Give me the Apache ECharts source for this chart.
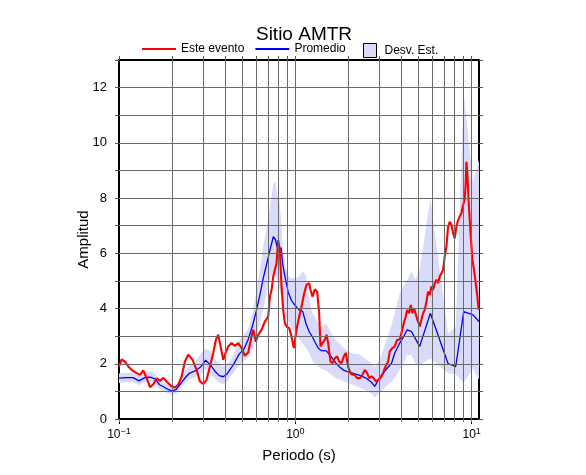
<!DOCTYPE html>
<html><head><meta charset="utf-8">
<script src="https://cdn.jsdelivr.net/npm/echarts@6/dist/echarts.min.js"></script>
<style>html,body{margin:0;padding:0;background:#fff}#c{width:586px;height:475px}</style>
</head><body><div id="c"></div>
<script>
// ---- Data ----
const titleText = 'Sitio AMTR';
const seriesNames = ['Este evento', 'Promedio', 'Desv. Est.'];
const xName = 'Periodo (s)';
const yName = 'Amplitud';

// Este evento (period s, amplitude)
const redT = [0.100,0.1035,0.1082,0.1129,0.1179,0.1259,0.1315,0.1373,0.1435,0.1499,0.1532,0.1565,0.1634,0.1707,0.1783,0.1862,0.1988,0.2077,0.2168,0.2265,0.2365,0.2470,0.2525,0.2615,0.2755,0.2877,0.3005,0.3138,0.3278,0.3423,0.3544,0.3653,0.3767,0.3900,0.3988,0.4163,0.4348,0.4541,0.4744,0.4955,0.5174,0.5404,0.5645,0.5769,0.5973,0.6158,0.6432,0.6719,0.7015,0.7170,0.7328,0.7488,0.7653,0.7819,0.7992,0.8170,0.835,0.853,0.872,0.891,0.923,0.951,0.981,0.9935,1.015,1.051,1.084,1.117,1.157,1.198,1.219,1.251,1.290,1.330,1.365,1.389,1.425,1.469,1.502,1.535,1.582,1.624,1.674,1.726,1.771,1.826,1.883,1.932,1.992,2.054,2.109,2.174,2.240,2.320,2.402,2.476,2.553,2.620,2.702,2.785,2.858,2.946,3.037,3.145,3.214,3.285,3.357,3.431,3.553,3.663,3.776,3.908,3.995,4.119,4.227,4.302,4.415,4.512,4.611,4.713,4.816,4.922,5.074,5.185,5.300,5.416,5.536,5.655,5.781,5.908,6.039,6.171,6.307,6.446,6.587,6.733,6.880,7.031,7.187,7.344,7.506,7.671,7.840,8.012,8.188,8.368,8.551,8.740,8.932,9.128,9.247,9.327,9.450,9.616,9.827,10.09,10.31,10.54,10.77,10.96];
const redA = [1.90,2.16,2.08,1.90,1.78,1.66,1.60,1.76,1.48,1.15,1.13,1.26,1.47,1.38,1.49,1.36,1.18,1.14,1.24,1.54,2.08,2.33,2.39,2.14,1.78,1.36,1.27,1.42,1.90,2.39,2.87,3.05,2.63,2.14,2.33,2.63,2.75,2.65,2.75,2.57,2.29,2.41,2.99,3.23,2.80,3.05,3.23,3.53,3.71,4.43,4.67,5.16,5.40,5.64,6.48,6.10,4.80,3.95,3.47,3.35,3.29,2.99,2.57,2.50,3.23,3.71,4.07,4.49,4.86,4.92,4.67,4.43,4.70,4.61,3.83,2.63,2.75,2.87,3.05,2.75,2.08,2.02,2.20,2.27,2.08,2.02,2.27,2.39,1.90,1.66,1.60,1.60,1.48,1.48,1.60,1.78,1.66,1.48,1.54,1.48,1.36,1.42,1.48,1.66,1.84,1.78,2.08,2.45,2.57,2.63,2.87,2.87,3.11,3.47,3.71,3.95,3.83,4.13,3.83,4.01,4.07,3.59,3.35,3.59,3.83,3.95,4.25,4.61,4.49,4.80,4.67,4.92,5.04,4.92,5.16,5.28,5.40,5.88,6.24,6.96,7.14,7.05,6.72,6.54,6.96,7.20,7.33,7.45,7.75,7.93,8.53,9.31,8.89,7.81,6.84,5.76,5.40,4.92,4.43,3.95];

// Promedio and Desv. Est. band (period s)
const meanT = [0.10,0.11,0.12,0.13,0.14,0.15,0.16,0.17,0.18,0.19,0.20,0.21,0.22,0.23,0.24,0.25,0.27,0.29,0.31,0.33,0.35,0.37,0.39,0.41,0.43,0.45,0.48,0.51,0.54,0.57,0.60,0.63,0.66,0.69,0.72,0.75,0.77,0.79,0.81,0.83,0.85,0.88,0.91,0.95,1.0,1.05,1.1,1.15,1.2,1.25,1.3,1.35,1.4,1.5,1.6,1.7,1.8,1.9,2.0,2.15,2.3,2.5,2.7,2.82,3.0,3.2,3.51,3.66,3.91,4.12,4.3,4.55,4.8,5.07,5.83,7.34,8.12,9.01,10.17,11.0];
const meanA = [1.48,1.50,1.50,1.38,1.50,1.52,1.45,1.24,1.16,1.07,1.01,1.06,1.22,1.38,1.53,1.65,1.74,1.88,2.13,1.96,1.73,1.57,1.53,1.63,1.82,2.02,2.35,2.52,2.88,3.35,3.90,4.50,5.15,5.65,6.15,6.60,6.50,6.22,6.12,6.20,5.55,5.05,4.60,4.30,4.10,3.95,3.90,3.45,3.15,2.97,2.75,2.56,2.48,2.47,2.25,2.02,1.86,1.75,1.71,1.64,1.59,1.49,1.33,1.18,1.48,1.72,2.02,2.39,2.75,2.99,3.23,3.17,2.90,2.63,3.83,2.01,1.90,3.89,3.77,3.53];
const bandHi = [1.65,1.67,1.68,1.56,1.68,1.73,1.66,1.42,1.33,1.23,1.17,1.23,1.40,1.58,1.78,1.92,2.05,2.35,2.55,2.45,2.18,1.98,1.88,1.98,2.15,2.40,2.85,3.05,3.25,3.80,4.60,5.40,6.30,7.00,7.70,8.50,8.60,8.10,8.00,7.20,6.20,5.50,5.20,5.10,5.10,5.15,5.35,5.20,4.30,3.85,3.65,3.47,3.35,3.45,3.10,2.85,2.70,2.55,2.45,2.35,2.35,2.18,2.00,1.88,2.14,2.63,3.40,3.83,4.55,4.85,5.00,5.35,5.04,5.40,8.00,3.10,3.35,11.80,8.60,9.40];
const bandLo = [1.30,1.33,1.33,1.22,1.33,1.35,1.28,1.08,1.00,0.93,0.87,0.91,1.06,1.20,1.33,1.44,1.50,1.60,1.80,1.65,1.45,1.30,1.25,1.35,1.55,1.72,1.93,2.10,2.25,2.50,2.95,3.50,4.05,4.60,5.05,5.35,5.20,5.00,4.75,4.45,4.15,3.75,3.55,3.30,3.10,2.90,2.75,2.55,2.40,2.10,2.00,1.90,1.82,1.75,1.60,1.48,1.42,1.35,1.30,1.22,1.15,1.05,0.92,0.78,0.94,1.12,1.35,1.48,1.78,2.05,2.30,2.33,2.00,1.95,2.20,1.66,1.62,1.30,1.84,1.42];

// Axis ticks
const xMin = 0.1, xMax = 11;
const yMin = 0, yMax = 13, yStep = 1;
const xGridVals = [0.2,0.3,0.4,0.5,0.6,0.7,0.8,0.9,1,2,3,4,5,6,7,8,9,10];
const xTickVals = [0.1,0.2,0.3,0.4,0.5,0.6,0.7,0.8,0.9,1,2,3,4,5,6,7,8,9,10];
const yGridVals = [1,2,3,4,5,6,7,8,9,10,11,12];

// ---- Chart ----
const FONT = '"Liberation Sans", Arial, Helvetica, sans-serif';
const bandColor = 'rgb(218,218,250)';
const gridColor = '#6a6a6a';
const chart = echarts.init(document.getElementById('c'), null, {renderer: 'canvas'});

const zip = (a, b) => a.map((v, i) => [v, b[i]]);
const logTickVals = xTickVals.map(v => Math.log10(v));

const option = {
  animation: false,
  backgroundColor: '#fff',
  title: {
    text: titleText, left: 299, top: 20, textAlign: 'center',
    textStyle: {fontFamily: FONT, fontSize: 19, fontWeight: 'normal', color: '#000'}
  },
  legend: [
    {
      data: [{name: seriesNames[0], icon: 'rect'}, {name: seriesNames[1], icon: 'rect'}],
      left: 137, top: 38,
      itemWidth: 34, itemHeight: 2, itemGap: 11,
      textStyle: {fontFamily: FONT, fontSize: 12, color: '#000'}
    },
    {
      data: [{name: seriesNames[2], icon: 'rect'}], left: 358, top: 38,
      itemWidth: 13, itemHeight: 14,
      itemStyle: {color: bandColor, borderColor: '#000', borderWidth: 1},
      textStyle: {fontFamily: FONT, fontSize: 12, color: '#000', padding: [0, 0, 0, 3]}
    }
  ],
  grid: {left: 119, right: 107, top: 60, bottom: 56, containLabel: false},
  xAxis: [
    {
      type: 'log', logBase: 10, min: xMin, max: xMax, position: 'bottom',
      name: xName, nameLocation: 'middle', nameGap: 29, nameMoveOverlap: false,
      nameTextStyle: {fontFamily: FONT, fontSize: 15, color: '#000'},
      axisLine: {show: true, onZero: false, lineStyle: {color: '#000', width: 2}},
      axisTick: {show: true, length: 5, lineStyle: {color: '#000', width: 1}},
      splitLine: {show: false},
      minorTick: {show: false},
      axisLabel: {
        margin: 8, color: '#000', fontFamily: FONT,
        formatter: v => '{b|10}{s|' + Math.round(Math.log10(v)).toString().replace('-', '\u2212') + '}',
        rich: {
          b: {fontFamily: FONT, fontSize: 12, color: '#000', verticalAlign: 'bottom', lineHeight: 14},
          s: {fontFamily: FONT, fontSize: 9, color: '#000', verticalAlign: 'top', lineHeight: 14, padding: [0, 0, 6, 0]}
        }
      }
    },
    {
      type: 'value', min: Math.log10(xMin), max: Math.log10(xMax), position: 'bottom',
      axisLine: {show: false, onZero: false},
      axisTick: {show: true, customValues: logTickVals, length: 3, lineStyle: {color: '#777', width: 1}},
      axisLabel: {show: false}, splitLine: {show: false}
    },
    {
      type: 'value', min: Math.log10(xMin), max: Math.log10(xMax), position: 'top',
      axisLine: {show: true, onZero: false, lineStyle: {color: '#000', width: 2}},
      axisTick: {show: true, customValues: logTickVals, length: 4, lineStyle: {color: '#555', width: 1}},
      axisLabel: {show: false}, splitLine: {show: false}
    }
  ],
  yAxis: [
    {
      type: 'value', min: yMin, max: yMax, interval: yStep, position: 'left',
      name: yName, nameLocation: 'middle', nameGap: 28, nameRotate: 90, nameMoveOverlap: false,
      nameTextStyle: {fontFamily: FONT, fontSize: 15, color: '#000'},
      axisLine: {show: true, onZero: false, lineStyle: {color: '#000', width: 2}},
      axisTick: {show: true, length: 4, lineStyle: {color: '#555', width: 1}},
      splitLine: {show: false},
      axisLabel: {margin: 12, color: '#000', fontFamily: FONT, fontSize: 13,
        formatter: v => (Math.round(v) % 2 === 0 ? String(v) : '')}
    },
    {
      type: 'value', min: yMin, max: yMax, interval: yStep, position: 'right',
      axisLine: {show: true, onZero: false, lineStyle: {color: '#000', width: 2}},
      axisTick: {show: true, length: 4, lineStyle: {color: '#555', width: 1}},
      splitLine: {show: false}, axisLabel: {show: false}
    }
  ],
  series: [
    {
      name: seriesNames[2], type: 'custom', xAxisIndex: 0, yAxisIndex: 0, z: 1,
      itemStyle: {color: bandColor},
      data: [[meanT[0], bandLo[0]]],
      renderItem: (params, api) => {
        const pts = [];
        for (let i = 0; i < meanT.length; i++) pts.push(api.coord([meanT[i], bandHi[i]]));
        for (let i = meanT.length - 1; i >= 0; i--) pts.push(api.coord([meanT[i], bandLo[i]]));
        return {type: 'polygon', shape: {points: pts}, style: {fill: bandColor}, silent: true};
      },
      silent: true
    },
    {
      type: 'line', xAxisIndex: 0, yAxisIndex: 0, z: 2, silent: true,
      data: [[0.1, -5]], showSymbol: false, lineStyle: {opacity: 0},
      markLine: {
        silent: true, symbol: ['none', 'none'], animation: false,
        label: {show: false},
        lineStyle: {color: gridColor, width: 1, type: 'solid'},
        emphasis: {disabled: true},
        data: xGridVals.map(v => ({xAxis: v})).concat(yGridVals.map(v => ({yAxis: v})))
      }
    },
    {
      name: seriesNames[1], type: 'line', xAxisIndex: 0, yAxisIndex: 0, z: 3,
      data: zip(meanT, meanA), symbol: 'none', showSymbol: false, smooth: false,
      color: '#0000ff', lineStyle: {color: '#0000ff', width: 1.3}
    },
    {
      name: seriesNames[0], type: 'line', xAxisIndex: 0, yAxisIndex: 0, z: 4,
      data: zip(redT, redA), symbol: 'none', showSymbol: false, smooth: false,
      color: '#ff0000', lineStyle: {color: '#ff0000', width: 2.1}
    }
  ]
};
chart.setOption(option);
</script></body></html>
